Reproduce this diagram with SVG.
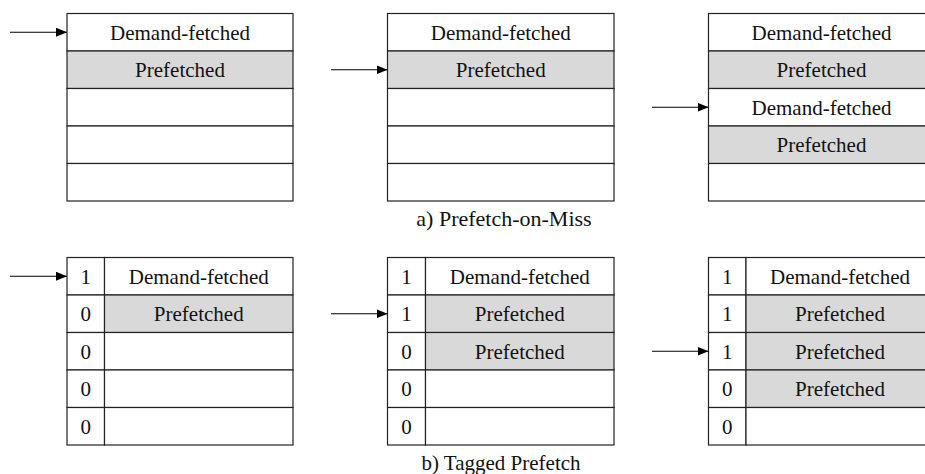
<svg xmlns="http://www.w3.org/2000/svg" width="925" height="474" viewBox="0 0 925 474">
<defs>
<marker id="ah" viewBox="0 0 11 9" refX="11" refY="4.5" markerWidth="11" markerHeight="9" markerUnits="userSpaceOnUse" orient="auto">
<path d="M0,0 L11,4.5 L0,9 Z" fill="#000"/>
</marker>
</defs>
<style>
.c{fill:#fff;stroke:#222;stroke-width:1.2}
.g{fill:#d9d9d9;stroke:#222;stroke-width:1.2}
text{font-family:'Liberation Serif','Times New Roman','DejaVu Serif',serif;font-size:21px;fill:#111;text-anchor:middle}
.a{stroke:#000;stroke-width:1.2;fill:none;marker-end:url(#ah)}
</style>
<rect width="925" height="474" fill="#fff"/>

<g font-family="Liberation Serif, Times New Roman, serif" font-size="21" text-anchor="middle">
<!-- a1 -->
<g id="a1">
<rect class="c" x="67" y="13.5" width="226" height="37.5"/>
<rect class="g" x="67" y="51" width="226" height="37.5"/>
<rect class="c" x="67" y="88.5" width="226" height="37.5"/>
<rect class="c" x="67" y="126" width="226" height="37.5"/>
<rect class="c" x="67" y="163.5" width="226" height="37.5"/>
<text x="180" y="39.5">Demand-fetched</text>
<text x="180" y="77">Prefetched</text>
</g>
<!-- a2 -->
<g id="a2">
<rect class="c" x="387.5" y="13.5" width="226.5" height="37.5"/>
<rect class="g" x="387.5" y="51" width="226.5" height="37.5"/>
<rect class="c" x="387.5" y="88.5" width="226.5" height="37.5"/>
<rect class="c" x="387.5" y="126" width="226.5" height="37.5"/>
<rect class="c" x="387.5" y="163.5" width="226.5" height="37.5"/>
<text x="500.75" y="39.5">Demand-fetched</text>
<text x="500.75" y="77">Prefetched</text>
</g>
<!-- a3 -->
<g id="a3">
<rect class="c" x="708.5" y="13.5" width="226" height="37.5"/>
<rect class="g" x="708.5" y="51" width="226" height="37.5"/>
<rect class="c" x="708.5" y="88.5" width="226" height="37.5"/>
<rect class="g" x="708.5" y="126" width="226" height="37.5"/>
<rect class="c" x="708.5" y="163.5" width="226" height="37.5"/>
<text x="821.5" y="39.5">Demand-fetched</text>
<text x="821.5" y="77">Prefetched</text>
<text x="821.5" y="114.5">Demand-fetched</text>
<text x="821.5" y="152">Prefetched</text>
</g>
<text id="capA" x="504" y="226" style="font-size:22px">a) Prefetch-on-Miss</text>

<!-- b1 -->
<g id="b1">
<rect class="c" x="67" y="257.5" width="37.5" height="37.5"/>
<rect class="c" x="67" y="295" width="37.5" height="37.5"/>
<rect class="c" x="67" y="332.5" width="37.5" height="37.5"/>
<rect class="c" x="67" y="370" width="37.5" height="37.5"/>
<rect class="c" x="67" y="407.5" width="37.5" height="37.5"/>
<rect class="c" x="104.5" y="257.5" width="188.5" height="37.5"/>
<rect class="g" x="104.5" y="295" width="188.5" height="37.5"/>
<rect class="c" x="104.5" y="332.5" width="188.5" height="37.5"/>
<rect class="c" x="104.5" y="370" width="188.5" height="37.5"/>
<rect class="c" x="104.5" y="407.5" width="188.5" height="37.5"/>
<text x="85.75" y="283.5">1</text>
<text x="85.75" y="321">0</text>
<text x="85.75" y="358.5">0</text>
<text x="85.75" y="396">0</text>
<text x="85.75" y="433.5">0</text>
<text x="198.75" y="283.5">Demand-fetched</text>
<text x="198.75" y="321">Prefetched</text>
</g>
<!-- b2 -->
<g id="b2">
<rect class="c" x="387.5" y="257.5" width="38" height="37.5"/>
<rect class="c" x="387.5" y="295" width="38" height="37.5"/>
<rect class="c" x="387.5" y="332.5" width="38" height="37.5"/>
<rect class="c" x="387.5" y="370" width="38" height="37.5"/>
<rect class="c" x="387.5" y="407.5" width="38" height="37.5"/>
<rect class="c" x="425.5" y="257.5" width="188.5" height="37.5"/>
<rect class="g" x="425.5" y="295" width="188.5" height="37.5"/>
<rect class="g" x="425.5" y="332.5" width="188.5" height="37.5"/>
<rect class="c" x="425.5" y="370" width="188.5" height="37.5"/>
<rect class="c" x="425.5" y="407.5" width="188.5" height="37.5"/>
<text x="406.5" y="283.5">1</text>
<text x="406.5" y="321">1</text>
<text x="406.5" y="358.5">0</text>
<text x="406.5" y="396">0</text>
<text x="406.5" y="433.5">0</text>
<text x="519.75" y="283.5">Demand-fetched</text>
<text x="519.75" y="321">Prefetched</text>
<text x="519.75" y="358.5">Prefetched</text>
</g>
<!-- b3 -->
<g id="b3">
<rect class="c" x="708.5" y="257.5" width="37.5" height="37.5"/>
<rect class="c" x="708.5" y="295" width="37.5" height="37.5"/>
<rect class="c" x="708.5" y="332.5" width="37.5" height="37.5"/>
<rect class="c" x="708.5" y="370" width="37.5" height="37.5"/>
<rect class="c" x="708.5" y="407.5" width="37.5" height="37.5"/>
<rect class="c" x="746" y="257.5" width="188.5" height="37.5"/>
<rect class="g" x="746" y="295" width="188.5" height="37.5"/>
<rect class="g" x="746" y="332.5" width="188.5" height="37.5"/>
<rect class="g" x="746" y="370" width="188.5" height="37.5"/>
<rect class="c" x="746" y="407.5" width="188.5" height="37.5"/>
<text x="727.25" y="283.5">1</text>
<text x="727.25" y="321">1</text>
<text x="727.25" y="358.5">1</text>
<text x="727.25" y="396">0</text>
<text x="727.25" y="433.5">0</text>
<text x="840" y="283.5">Demand-fetched</text>
<text x="840" y="321">Prefetched</text>
<text x="840" y="358.5">Prefetched</text>
<text x="840" y="396">Prefetched</text>
</g>
<text id="capB" x="501" y="470">b) Tagged Prefetch</text>
</g>

<g id="connectors">
<line class="a" x1="10" y1="32.25" x2="67" y2="32.25"/>
<line class="a" x1="331" y1="69.75" x2="387.5" y2="69.75"/>
<line class="a" x1="652" y1="107.25" x2="708.5" y2="107.25"/>
<line class="a" x1="10" y1="276.25" x2="67" y2="276.25"/>
<line class="a" x1="331" y1="313.75" x2="387.5" y2="313.75"/>
<line class="a" x1="652" y1="351.25" x2="708.5" y2="351.25"/>
</g>
</svg>
